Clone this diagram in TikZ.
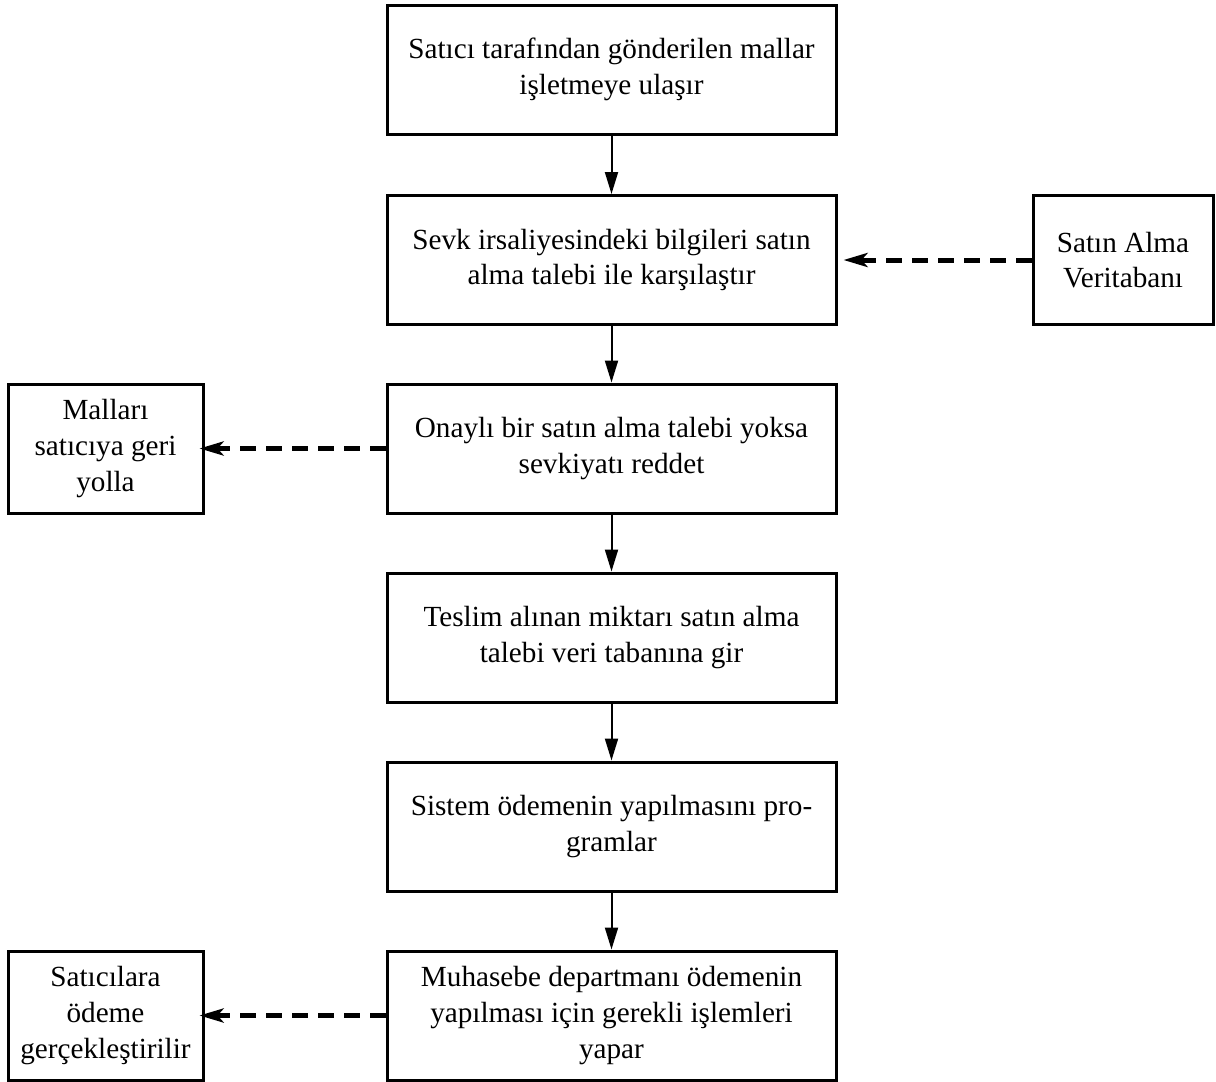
\documentclass[tikz,border=0pt]{standalone}
\usepackage{fontspec}
\setmainfont{Liberation Serif}
\usetikzlibrary{arrows.meta}
\begin{document}
\begin{tikzpicture}[x=0.5pt,y=-0.5pt,
  mainbox/.style={draw,line width=1.5pt,minimum width=224.5pt,minimum height=64.5pt,align=center,inner sep=0pt,font=\fontsize{14.6}{17.8}\selectfont},
  sidebox/.style={draw,line width=1.5pt,minimum height=64.5pt,align=center,inner sep=0pt,font=\fontsize{14.6}{17.8}\selectfont},
  flow/.style={line width=1pt,-{Triangle[length=11pt,width=6.5pt]}},
  dflow/.style={line width=2.5pt,dash pattern=on 8pt off 5pt,-{Stealth[length=12pt,width=7pt,inset=3pt]}}]
\useasboundingbox (0,0) rectangle (1216,1082);
\node[mainbox] (b1) at (611.5,69.5) {Satıcı tarafından gönderilen mallar\\işletmeye ulaşır};
\node[mainbox] (b2) at (611.5,260) {Sevk irsaliyesindeki bilgileri satın\\alma talebi ile karşılaştır};
\node[mainbox] (b3) at (611.5,448.5) {Onaylı bir satın alma talebi yoksa\\sevkiyatı reddet};
\node[mainbox] (b4) at (611.5,637.5) {Teslim alınan miktarı satın alma\\talebi veri tabanına gir};
\node[mainbox] (b5) at (611.5,826.5) {Sistem ödemenin yapılmasını pro-\\gramlar};
\node[mainbox] (b6) at (611.5,1015.5) {Muhasebe departmanı ödemenin\\yapılması için gerekli işlemleri\\yapar};
\node[sidebox,minimum width=90pt] (db) at (1123,260) {Satın Alma\\Veritabanı};
\node[sidebox,minimum width=97.5pt] (ret) at (105.5,448.5) {Malları\\satıcıya geri\\yolla};
\node[sidebox,minimum width=97.5pt] (pay) at (105.5,1015.5) {Satıcılara\\ödeme\\gerçekleştirilir};
\draw[flow] (b1) -- (b2);
\draw[flow] (b2) -- (b3);
\draw[flow] (b3) -- (b4);
\draw[flow] (b4) -- (b5);
\draw[flow] (b5) -- (b6);
\draw[dflow] (db.west) -- ([xshift=3pt]b2.east);
\draw[dflow] (b3.west) -- ([xshift=-2.5pt]ret.east);
\draw[dflow] (b6.west) -- ([xshift=-2.5pt]pay.east);
\end{tikzpicture}
\end{document}
